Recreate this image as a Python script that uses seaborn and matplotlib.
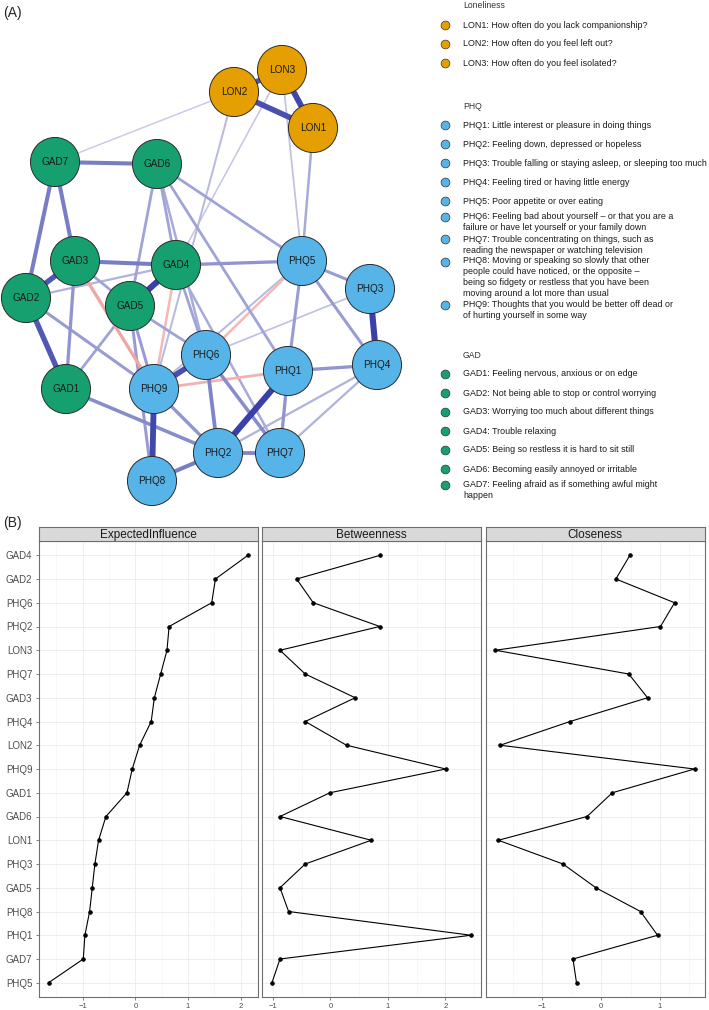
import numpy as np
import pandas as pd
import seaborn as sns
import matplotlib.pyplot as plt
from matplotlib.colors import to_rgb

sns.set_theme(style="white")
plt.rcParams['font.family'] = ['Liberation Sans', 'DejaVu Sans']

# network nodes (layout coordinates)
node_names = ["LON1", "LON2", "LON3",
              "PHQ1", "PHQ2", "PHQ3", "PHQ4", "PHQ5", "PHQ6", "PHQ7", "PHQ8", "PHQ9",
              "GAD1", "GAD2", "GAD3", "GAD4", "GAD5", "GAD6", "GAD7"]
node_group = ["LON"] * 3 + ["PHQ"] * 9 + ["GAD"] * 7
node_x = [3.13, 2.34, 2.82,
          2.88, 2.18, 3.70, 3.77, 3.02, 2.06, 2.80, 1.52, 1.54,
          0.66, 0.26, 0.75, 1.76, 1.30, 1.57, 0.55]
node_y = [1.28, 0.92, 0.70,
          3.71, 4.53, 2.89, 3.65, 2.61, 3.55, 4.53, 4.81, 3.89,
          3.89, 2.98, 2.61, 2.65, 3.06, 1.64, 1.62]

# edges (partial correlations, estimated)
edge_from = ["LON1", "LON1", "LON2", "LON2", "LON2", "LON3", "LON3", "LON1",
             "GAD7", "GAD7", "GAD7",
             "GAD6", "GAD6", "GAD6", "GAD6", "GAD6",
             "GAD3", "GAD3", "GAD3", "GAD3", "GAD3",
             "GAD2", "GAD2", "GAD2",
             "GAD1", "GAD1",
             "GAD4", "GAD4", "GAD4", "GAD4", "GAD4",
             "GAD5", "GAD5", "GAD5",
             "PHQ5", "PHQ5", "PHQ5", "PHQ5", "PHQ5",
             "PHQ3", "PHQ3",
             "PHQ4", "PHQ4", "PHQ4",
             "PHQ6", "PHQ6", "PHQ6",
             "PHQ1", "PHQ1", "PHQ1",
             "PHQ9", "PHQ9",
             "PHQ2", "PHQ2"]
edge_to = ["LON3", "LON2", "LON3", "GAD7", "PHQ9", "GAD4", "PHQ5", "PHQ5",
           "GAD6", "GAD2", "GAD3",
           "GAD5", "GAD4", "PHQ6", "PHQ1", "PHQ5",
           "GAD2", "GAD4", "GAD1", "GAD5", "PHQ9",
           "GAD1", "GAD4", "PHQ9",
           "PHQ2", "GAD5",
           "GAD5", "PHQ5", "PHQ6", "PHQ7", "PHQ9",
           "PHQ6", "PHQ9", "PHQ8",
           "PHQ3", "PHQ1", "PHQ4", "PHQ6", "PHQ9",
           "PHQ4", "PHQ6",
           "PHQ1", "PHQ2", "PHQ7",
           "PHQ9", "PHQ2", "PHQ7",
           "PHQ2", "PHQ7", "PHQ9",
           "PHQ8", "PHQ2",
           "PHQ8", "PHQ7"]
edge_weight = [0.95, 0.9, 0.85, 0.1, 0.2, 0.12, 0.15, 0.3,
               0.6, 0.6, 0.6,
               0.35, 0.35, 0.3, 0.35, 0.35,
               0.85, 0.6, 0.45, 0.35, -0.45,
               0.85, 0.25, 0.4,
               0.5, 0.35,
               1.0, 0.45, 0.35, 0.3, -0.3,
               0.35, 0.4, 0.4,
               0.4, 0.4, 0.4, -0.3, 0.2,
               1.0, 0.15,
               0.45, 0.25, 0.25,
               0.9, 0.55, 0.5,
               1.0, 0.45, -0.35,
               0.95, 0.45,
               0.6, 0.55]

# legend texts
lon_items = ["LON1: How often do you lack companionship?",
             "LON2: How often do you feel left out?",
             "LON3: How often do you feel isolated?"]
phq_items = ["PHQ1: Little interest or pleasure in doing things",
             "PHQ2: Feeling down, depressed or hopeless",
             "PHQ3: Trouble falling or staying asleep, or sleeping too much",
             "PHQ4: Feeling tired or having little energy",
             "PHQ5: Poor appetite or over eating",
             "PHQ6: Feeling bad about yourself \u2013 or that you are a\nfailure or have let yourself or your family down",
             "PHQ7: Trouble concentrating on things, such as\nreading the newspaper or watching television",
             "PHQ8: Moving or speaking so slowly that other\npeople could have noticed, or the opposite \u2013\nbeing so fidgety or restless that you have been\nmoving around a lot more than usual",
             "PHQ9: Thoughts that you would be better off dead or\nof hurting yourself in some way"]
gad_items = ["GAD1: Feeling nervous, anxious or on edge",
             "GAD2: Not being able to stop or control worrying",
             "GAD3: Worrying too much about different things",
             "GAD4: Trouble relaxing",
             "GAD5: Being so restless it is hard to sit still",
             "GAD6: Becoming easily annoyed or irritable",
             "GAD7: Feeling afraid as if something awful might\nhappen"]

# centrality indices (z-scores)
order = ["GAD4", "GAD2", "PHQ6", "PHQ2", "LON3", "PHQ7", "GAD3", "PHQ4", "LON2", "PHQ9",
         "GAD1", "GAD6", "LON1", "PHQ3", "GAD5", "PHQ8", "PHQ1", "GAD7", "PHQ5"]
expected_influence = [2.14, 1.52, 1.45, 0.64, 0.60, 0.48, 0.36, 0.30, 0.08, -0.06,
                      -0.16, -0.56, -0.70, -0.77, -0.82, -0.87, -0.96, -0.99, -1.65]
betweenness = [0.87, -0.59, -0.30, 0.86, -0.88, -0.44, 0.43, -0.44, 0.28, 2.01,
               -0.01, -0.88, 0.71, -0.44, -0.88, -0.73, 2.45, -0.88, -1.02]
closeness = [0.49, 0.25, 1.25, 1.01, -1.80, 0.47, 0.79, -0.53, -1.72, 1.59,
             0.19, -0.24, -1.75, -0.65, -0.09, 0.67, 0.96, -0.48, -0.42]

group_colors = {"LON": "#E69F00", "PHQ": "#56B4E9", "GAD": "#16A070"}

W, H = 709, 1010
fig = plt.figure(figsize=(W / 100, H / 100), dpi=100)

# ---- (A) network ----
ax_net = fig.add_axes([0, 1 - 520 / H, 1, 520 / H])

pos = dict(zip(node_names, zip(node_x, node_y)))


def edge_style(w):
    base = np.array(to_rgb("#3A40A8" if w > 0 else "#E2605E"))
    a = 0.2 + 0.8 * abs(w)
    col = 1 - a * (1 - base)
    return col, 0.7 + 3.7 * abs(w)


for a, b, w in sorted(zip(edge_from, edge_to, edge_weight), key=lambda e: abs(e[2])):
    col, lw = edge_style(w)
    ax_net.plot([pos[a][0], pos[b][0]], [pos[a][1], pos[b][1]],
                color=col, lw=lw, solid_capstyle="butt", zorder=1)

nodes = pd.DataFrame({"node": node_names, "x": node_x, "y": node_y, "group": node_group})
sns.scatterplot(data=nodes, x="x", y="y", hue="group", palette=group_colors, s=1250,
                edgecolor="#2b2b2b", linewidth=0.7, legend=False, ax=ax_net, zorder=3)
for n, x, y in zip(node_names, node_x, node_y):
    ax_net.text(x, y, n, ha="center", va="center", fontsize=7.2, color="#1a1a1a", zorder=4)

# legend
lx_dot, lx_txt = 4.45, 4.63


def row_h(t):
    n = t.count("\n") + 1
    return max(0.19, 0.102 * n + 0.02)


y = 0.06
for header, items, grp in [("Loneliness", lon_items, "LON"),
                           ("PHQ", phq_items, "PHQ"),
                           ("GAD", gad_items, "GAD")]:
    ax_net.text(lx_txt, y, header, fontsize=6.2, va="center", color="#333333")
    c = y + 0.095 + row_h(items[0]) / 2
    for i, t in enumerate(items):
        if i > 0:
            c += (row_h(items[i - 1]) + row_h(t)) / 2
        n = t.count("\n") + 1
        first = c - (n - 1) * 0.051
        ax_net.scatter(lx_dot, first, s=40, color=group_colors[grp],
                       edgecolor="#333333", lw=0.5, zorder=3)
        ax_net.text(lx_txt, c, t, fontsize=6.4, va="center", linespacing=1.3, color="#1a1a1a")
    y = c + row_h(items[-1]) / 2 + 0.34

ax_net.set_xlim(0, 7.09)
ax_net.set_ylim(5.20, 0)
ax_net.axis("off")

fig.text(3 / W, 1 - 13 / H, "(A)", fontsize=10, va="center", ha="left")
fig.text(3 / W, 1 - 523 / H, "(B)", fontsize=10, va="center", ha="left")

# ---- (B) centrality ----
panels = [("ExpectedInfluence", expected_influence, 38.6, 219.4),
          ("Betweenness", betweenness, 262.0, 219.0),
          ("Closeness", closeness, 485.5, 219.0)]
top, bottom, strip_h = 541, 997, 14

for k, (title, vals, left, width) in enumerate(panels):
    ax = fig.add_axes([left / W, 1 - bottom / H, width / W, (bottom - top) / H])
    df = pd.DataFrame({"node": order, "value": vals})
    sns.pointplot(data=df, x="value", y="node", order=order, color="black",
                  markersize=2.6, linewidth=0.8, errorbar=None, ax=ax, zorder=3)
    lo, hi = min(vals), max(vals)
    pad = 0.05 * (hi - lo)
    ax.set_xlim(lo - pad, hi + pad)
    ax.set_ylim(len(order) - 1 + 0.6, -0.6)
    ax.set_xticks(np.arange(np.ceil(lo - pad), np.floor(hi + pad) + 1))
    ax.set_xticks(np.arange(np.ceil((lo - pad) * 2) / 2, hi + pad, 0.5), minor=True)
    ax.set_xticklabels([f"{int(v)}" if v >= 0 else f"\u2212{int(-v)}" for v in ax.get_xticks()])
    ax.grid(True, which="major", color="#EBEBEB", lw=0.6, zorder=0)
    ax.grid(True, which="minor", axis="x", color="#F4F4F4", lw=0.4, zorder=0)
    ax.set_axisbelow(True)
    ax.set_xlabel("")
    ax.set_ylabel("")
    for sp in ax.spines.values():
        sp.set_color("#6E6E6E")
        sp.set_linewidth(0.8)
    ax.tick_params(axis="x", which="major", labelsize=5.5, labelcolor="#4D4D4D",
                   color="#4D4D4D", length=2.5, width=0.5, bottom=True, pad=2)
    ax.tick_params(axis="x", which="minor", length=0)
    if k == 0:
        ax.tick_params(axis="y", labelsize=7, labelcolor="#4D4D4D", color="#4D4D4D",
                       length=2.5, width=0.5, left=True, pad=2)
    else:
        ax.tick_params(axis="y", length=0, labelleft=False)

    ax_s = fig.add_axes([left / W, 1 - top / H, width / W, strip_h / H])
    ax_s.set_facecolor("#D9D9D9")
    ax_s.set_xticks([])
    ax_s.set_yticks([])
    for sp in ax_s.spines.values():
        sp.set_color("#6E6E6E")
        sp.set_linewidth(0.8)
    ax_s.text(0.5, 0.45, title, ha="center", va="center", fontsize=8.5,
              color="#1A1A1A", transform=ax_s.transAxes)

fig.savefig("out.png", dpi=100)
